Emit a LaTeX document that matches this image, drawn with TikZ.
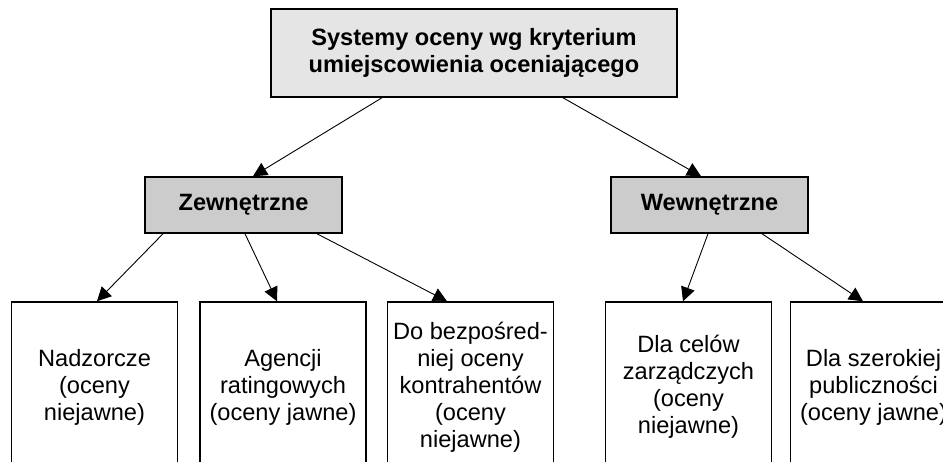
\documentclass[tikz,border=0pt]{standalone}
\usepackage{fontspec}
\setmainfont{Liberation Sans}
\usepackage{tikz}
\usetikzlibrary{arrows.meta,shapes}
\tikzstyle{topbox}=[draw,line width=1.5pt,fill=black!10,minimum width=406pt,minimum height=88pt,inner sep=0pt,align=center,font=\bfseries\fontsize{23.6}{27}\selectfont]
\tikzstyle{groupbox}=[draw,line width=1.5pt,fill=black!20,minimum width=197pt,minimum height=56pt,inner sep=0pt,align=center,font=\bfseries\fontsize{23.6}{27}\selectfont]
\tikzstyle{leafbox}=[draw,line width=1.5pt,fill=white,minimum width=166pt,minimum height=170pt,inner sep=0pt,align=center,font=\fontsize{23.6}{27}\selectfont]
\tikzstyle{edge} = [draw,line width=0.9pt,-{Triangle[length=14pt,width=14pt]}]

\begin{document}
\begin{tikzpicture}[x=1pt,y=-1pt]

    \path[use as bounding box,clip] (0,0) rectangle (943,461);

    \node[topbox] (top) at (474,53) {Systemy oceny wg kryterium\\umiejscowienia oceniającego};
    \node[groupbox] (zew) at (243.5,205) {Zewnętrzne};
    \node[groupbox] (wew) at (709.5,205) {Wewnętrzne};

    \foreach \pos/ \name/ \txt in {{(94.5,387)/b1/{Nadzorcze\\(oceny\\niejawne)}},
        {(283,387)/b2/{Agencji\\ratingowych\\(oceny jawne)}},
        {(470.5,387)/b3/{Do bezpośred-\\niej oceny\\kontrahentów\\(oceny\\niejawne)}},
        {(688.5,387)/b4/{Dla celów\\zarządczych\\(oceny\\niejawne)}},
        {(873.5,387)/b5/{Dla szerokiej\\publiczności\\(oceny jawne)}}}
        \node[leafbox] (\name) at \pos {\txt};

    % Connect boxes with arrows
    \foreach \source/ \sx/ \dest/ \dx in {top/-92/zew/9.5, top/89/wew/-8.5}
        \path[edge] ([xshift=\sx pt]\source.south) -- ([xshift=\dx pt]\dest.north);
    \foreach \source/ \sx/ \dest/ \dx in {zew/-80.5/b1/2.5, zew/1.5/b2/-6, zew/73.5/b3/-23.5, wew/-1.5/b4/-5.5, wew/52.5/b5/-10.5}
        \path[edge] ([xshift=\sx pt]\source.south) -- ([xshift=\dx pt]\dest.north);

\end{tikzpicture}
\end{document}
